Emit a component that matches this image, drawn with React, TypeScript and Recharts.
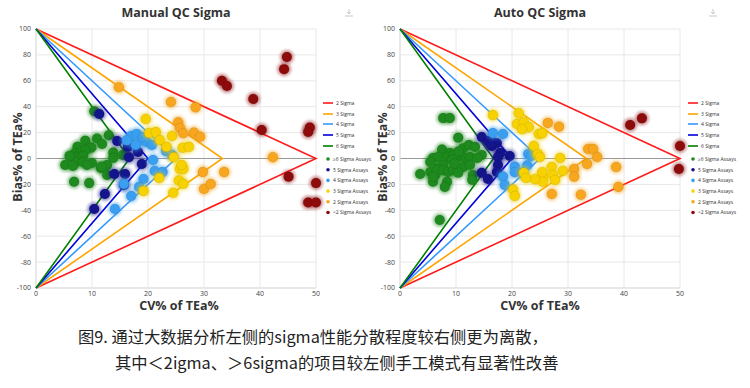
import React from 'react';
import { ScatterChart, Scatter, XAxis, YAxis, CartesianGrid, ReferenceLine } from 'recharts';

// CV% of TEa% , Bias% of TEa%
const manualSix = [
  [10.4, 36.5], [13, 18], [8.8, 13.8], [10.9, 15.5], [11.8, 11.2], [7.4, 9], [9.3, 8.1], [9.9, 8.5],
  [7, 4.2], [8, 5], [8.8, 6.6], [6.4, 1.2], [7.5, 1.2], [8.4, 1.9], [7.1, -2.7], [8.4, -2.7],
  [10, -3.5], [5.2, -5], [6.6, -5.8], [9.1, -5], [13.8, 4.6], [13.8, 0.4], [12.7, -5], [11.6, -7.3],
  [12.7, -12.7], [6.8, -18], [9.5, -19], [15.5, 2.7], [11.7, -6.3], [6, 2],
];
const manualFive = [
  [11.3, 34.3], [14.5, 13.5], [16.4, 9], [18.2, 5], [16.6, 1], [18.9, -4.2], [14, -12], [15.9, -12],
  [15.7, -20.5], [12.3, -27.4], [10.4, -39],
];
const manualFour = [
  [17, 17.4], [18, 18.9], [18.9, 14.3], [19.8, 12.7], [20.7, 10.4], [19.1, 16.6], [16.2, 14], [17.8, 10.5],
  [23.2, 5.8], [24.3, 2.7], [20.9, -1.2], [21.2, -9.6], [19.2, -15.8], [18.4, -22], [17, -29], [14.1, -39],
  [15.7, -19.7], [22.6, -10.5],
];
const manualThree = [
  [19.6, 30.5], [20.2, 19.7], [21.4, 20.4], [22.1, 14.3], [24.3, 17.4], [23.3, 9], [26.2, 8.3], [27.3, 9],
  [24.6, 1], [25.7, -8], [26.3, -8], [22, -15], [25.5, -17], [26.3, -19.5], [24.5, -26.5], [19.2, -25],
  [26, -5],
];
const manualTwo = [
  [14.8, 55], [24.1, 43.6], [28.5, 39.5], [25.4, 28], [25.7, 23.5], [26.3, 19.5], [28.2, 20], [29.3, 16.8],
  [42.3, 1], [29.8, -10.5], [33.6, -10.5], [30, -23.5], [31.2, -19.7],
];
const manualLow = [
  [44.8, 78.4], [44.3, 69], [33.2, 60], [34.1, 56], [38.8, 46], [40.3, 22], [48.9, 24], [48.6, 20.5],
  [45.1, -14], [50, -19], [48.6, -34], [50, -34],
];

const autoSix = [
  [7.7, 31.2], [8.9, 31.2], [10.4, 16], [7.5, 7], [8.9, 4.2], [11.3, 8], [12.3, 10.4], [13.4, 8.9],
  [14.6, 2.7], [5.9, 0.4], [6.8, 1.2], [8.4, 1.2], [9.5, 2.7], [10.4, 1.2], [11.6, 0.4], [12.5, 1.2],
  [13.8, 0.4], [5.4, -2.7], [9.3, -1.2], [7.7, -5], [6.8, -7.3], [11.3, -6.6], [12.5, -5], [5.4, -10.4],
  [6.3, -12.7], [6.6, -9], [7.7, -9], [8.6, -10.4], [9.5, -9], [10.4, -11], [13, -12.7], [12.9, -16.6],
  [8.4, -18], [8, -22], [5.9, -18], [3.6, -12], [5.9, -14], [7.1, -47.5], [10.5, 5.5], [9.8, -4],
];
const autoFive = [
  [14.6, 16.6], [15.7, 13.5], [16.4, 9.7], [17.3, 12], [17.9, 4.2], [19.6, 1.9], [17.5, 1.2], [17.5, -5],
  [17.3, -10.4], [14.6, -11], [15.7, -15.8], [16.2, 11],
];
const autoFour = [
  [16.6, 19.6], [18.4, 18.9], [22.9, 3.5], [23.4, 2], [22.7, -5.4], [20.5, -6.3], [20.5, -10.6], [21.8, -11],
  [18.4, -14], [18.7, -20.5],
];
const autoThree = [
  [16.6, 33.5], [21.2, 35], [20.9, 26.6], [22.1, 28], [23, 24.3], [21.8, 22.7], [24.8, 18.9], [25.4, 19.6],
  [23.9, 9.7], [24.6, 3.5], [25, 1.2], [28.6, 0.4], [27.1, -6.6], [27.3, -12.7], [29.1, -9.6], [27.7, -16.6],
  [25.5, -14], [25.5, -18], [25.4, -10.6], [24.1, -16], [22.1, -11], [22.5, -15], [20.2, -24], [20.5, -29],
];
const autoTwo = [
  [33.6, 7.3], [34.5, 7.3], [35.2, 1.2], [26.4, 27.5], [28.4, 24.6], [33.4, -4.2], [31.1, -8.1], [31.1, -14],
  [38.6, -6.6], [39, -22], [32.3, -28], [27.1, -27.4],
];
const autoLow = [[41.1, 25.9], [43.2, 31], [50, 9.7], [49.8, -8.1]];

// sigma boundary lines: apex at (0,100) and (0,-100), vertex on the CV axis
const sigmaNames = ['2 Sigma', '3 Sigma', '4 Sigma', '5 Sigma', '6 Sigma'];
const sigmaVertex = [50, 33.3, 25, 20, 16.7];
const sigmaColors = ['#ff1a1a', '#ffa500', '#3399ff', '#0000dd', '#008000'];

const assayNames = ['≥6 Sigma Assays', '5 Sigma Assays', '4 Sigma Assays', '3 Sigma Assays', '2 Sigma Assays', '<2 Sigma Assays'];
const assayColors = ['#1f8a1f', '#14148c', '#3a9ff0', '#f7d200', '#f7a61e', '#8e0b0b'];

const xTicks = [0, 10, 20, 30, 40, 50];
const yTicks = [-100, -80, -60, -40, -20, 0, 20, 40, 60, 80, 100];

const toPoints = (arr: number[][]) => arr.map(([x, y]) => ({ x, y }));

const Bubble = (color: string) => (props: any) => {
  const { cx, cy } = props;
  if (cx == null || cy == null) return null;
  return (
    <g>
      <circle cx={cx} cy={cy} r={7} fill={color} opacity={0.45} filter="url(#glow)" />
      <circle cx={cx} cy={cy} r={5} fill={color} />
      <circle cx={cx} cy={cy} r={5} fill="none" stroke="#000" strokeOpacity={0.15} strokeWidth={0.6} />
    </g>
  );
};

const tickStyle = { fontSize: 7, fill: '#444', fontFamily: 'Open Sans' };

const Panel = ({ groups }: { groups: number[][][] }) => (
  <ScatterChart width={375} height={310} margin={{ top: 29, right: 59, left: 6, bottom: 6 }}>
    <CartesianGrid stroke="#e8e8e8" />
    <XAxis
      dataKey="x"
      type="number"
      domain={[0, 50]}
      ticks={xTicks}
      tick={tickStyle}
      tickLine={false}
      tickSize={1}
      axisLine={{ stroke: '#ddd' }}
      height={16}
    />
    <YAxis
      dataKey="y"
      type="number"
      domain={[-100, 100]}
      ticks={yTicks}
      tick={tickStyle}
      tickLine={false}
      tickSize={3}
      axisLine={{ stroke: '#ddd' }}
      width={30}
    />
    <ReferenceLine y={0} stroke="#999" />
    {sigmaVertex.map((v, i) => (
      <Scatter
        key={sigmaNames[i]}
        data={[{ x: 0, y: 100 }, { x: v, y: 0 }, { x: 0, y: -100 }]}
        line={{ stroke: sigmaColors[i], strokeWidth: 1.6 }}
        shape={() => null}
        isAnimationActive={false}
      />
    ))}
    {groups.map((g, i) => (
      <Scatter
        key={assayNames[i]}
        data={toPoints(g)}
        shape={Bubble(assayColors[i])}
        isAnimationActive={false}
      />
    ))}
  </ScatterChart>
);

const LegendBox = ({ left }: { left: number }) => (
  <svg width={60} height={130} style={{ position: 'absolute', left, top: 95 }}>
    {sigmaNames.map((n, i) => {
      const y = [8, 19, 29, 40, 51][i];
      return (
        <g key={n}>
          <line x1={0} x2={10} y1={y} y2={y} stroke={sigmaColors[i]} strokeWidth={1.6} />
          <text x={13} y={y + 1.8} fontSize={5} fill="#333" fontFamily="Open Sans">{n}</text>
        </g>
      );
    })}
    {assayNames.map((n, i) => {
      const y = 64 + i * 10.7;
      return (
        <g key={n}>
          <circle cx={5} cy={y} r={1.8} fill={assayColors[i]} />
          <text x={10} y={y + 1.8} fontSize={5} fill="#333" fontFamily="Open Sans">{n}</text>
        </g>
      );
    })}
  </svg>
);

const Download = ({ left }: { left: number }) => (
  <svg width={10} height={10} style={{ position: 'absolute', left, top: 8 }}>
    <path d="M5 1 V6 M3 4 L5 6 L7 4 M1 8 H9" stroke="#c8c8c8" strokeWidth={1} fill="none" />
  </svg>
);

const titleStyle: React.CSSProperties = {
  position: 'absolute',
  fontFamily: 'Open Sans',
  fontWeight: 700,
  fontSize: 12.5,
  color: '#333',
  whiteSpace: 'nowrap',
  lineHeight: 1,
  transform: 'translate(-50%, -50%)',
};

const yLabelStyle: React.CSSProperties = {
  ...titleStyle,
  fontSize: 12.5,
  transform: 'translate(-50%, -50%) rotate(-90deg)',
};

const captionStyle: React.CSSProperties = {
  position: 'absolute',
  fontFamily: '"Noto Sans CJK SC"',
  fontSize: 16.3,
  color: '#222',
  whiteSpace: 'nowrap',
  lineHeight: 1,
};

export default function App() {
  return (
    <div style={{ position: 'absolute', left: 0, top: 0, width: 750, height: 388, background: '#fff', overflow: 'hidden' }}>
      <svg width={0} height={0} style={{ position: 'absolute' }}>
        <defs>
          <filter id="glow" x="-50%" y="-50%" width="200%" height="200%">
            <feGaussianBlur stdDeviation="1.5" />
          </filter>
        </defs>
      </svg>

      <div style={{ position: 'absolute', left: 0, top: 0 }}>
        <Panel groups={[manualSix, manualFive, manualFour, manualThree, manualTwo, manualLow]} />
      </div>
      <div style={{ position: 'absolute', left: 364, top: 0 }}>
        <Panel groups={[autoSix, autoFive, autoFour, autoThree, autoTwo, autoLow]} />
      </div>

      <LegendBox left={323} />
      <LegendBox left={688} />
      <Download left={344} />
      <Download left={708} />

      <div style={{ ...titleStyle, left: 176, top: 13 }}>Manual QC Sigma</div>
      <div style={{ ...titleStyle, left: 540, top: 13 }}>Auto QC Sigma</div>
      <div style={{ ...yLabelStyle, left: 18, top: 157 }}>Bias% of TEa%</div>
      <div style={{ ...yLabelStyle, left: 383, top: 157 }}>Bias% of TEa%</div>
      <div style={{ ...titleStyle, left: 179, top: 306 }}>CV% of TEa%</div>
      <div style={{ ...titleStyle, left: 540, top: 306 }}>CV% of TEa%</div>

      <div style={{ ...captionStyle, left: 78, top: 328 }}>图9. 通过大数据分析左侧的sigma性能分散程度较右侧更为离散，</div>
      <div style={{ ...captionStyle, left: 115, top: 354 }}>其中＜2igma、＞6sigma的项目较左侧手工模式有显著性改善</div>
    </div>
  );
}
